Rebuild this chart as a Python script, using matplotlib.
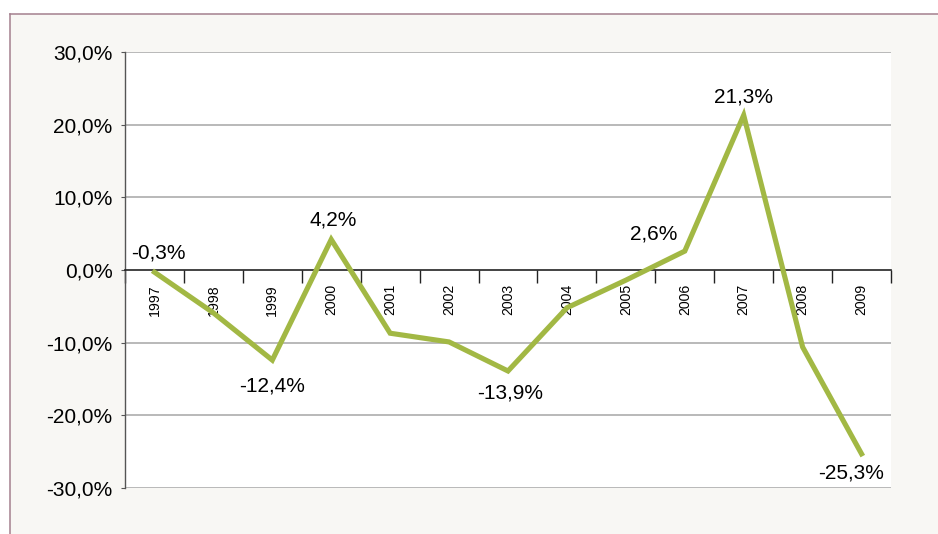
import numpy as np
import matplotlib.pyplot as plt
from matplotlib.patches import Rectangle
from matplotlib.lines import Line2D

years = ['1997', '1998', '1999', '2000', '2001', '2002', '2003',
         '2004', '2005', '2006', '2007', '2008', '2009']
values = [-0.3, -5.9, -12.4, 4.2, -8.7, -9.9, -13.9,
          -5.2, -1.4, 2.6, 21.3, -10.6, -25.3]
# which points carry a label, and where the label sits (pixels from the point)
labelled = [0, 2, 3, 6, 9, 10, 12]
label_offsets = [(4, 19), (0, -26), (2, 19), (2, -22), (-31, 17), (0, 18), (-10, -19)]

plt.rcParams['font.family'] = ['Liberation Sans', 'DejaVu Sans']

W, H = 938, 534
fig = plt.figure(figsize=(W / 100, H / 100), dpi=100)
fig.patch.set_facecolor('white')

# panel background with a thin border on left and top
bx, by = 9.5 / W, 1 - 13.5 / H
fig.patches.append(Rectangle((bx, 0), 1 - bx, by, transform=fig.transFigure,
                             facecolor='#f8f7f4', edgecolor='none', zorder=-5))
fig.add_artist(Line2D([bx, 1], [by, by], transform=fig.transFigure, color='#a4808e', lw=1.1, zorder=-4))
fig.add_artist(Line2D([bx, bx], [0, by], transform=fig.transFigure, color='#a4808e', lw=1.1, zorder=-4))

ax = fig.add_axes([125 / W, (H - 488) / H, (891 - 125) / W, (488 - 52) / H])
ax.set_facecolor('white')

x = np.arange(len(years))
ax.plot(x, values, color='#a2b844', lw=3.7, solid_joinstyle='miter', zorder=3)

for i, (dx, dy) in zip(labelled, label_offsets):
    v = values[i]
    ax.annotate(f'{v:.1f}%'.replace('.', ','), (x[i], v), xytext=(dx, dy),
                textcoords='offset pixels', ha='center', va='center',
                fontsize=15, color='black', zorder=4)

ax.set_xlim(-0.5, len(years) - 0.5)
ax.set_ylim(-30, 30)
yt = np.arange(-30, 31, 10)
ax.set_yticks(yt)
ax.set_yticklabels([f'{v:.1f}%'.replace('.', ',') for v in yt], fontsize=15)
ax.tick_params(axis='y', length=3, width=0.8, color='#555555', pad=6)

for v in yt:
    if v != 0:
        ax.axhline(v, color='#a6a6a6', lw=1.1, zorder=1)

for s in ['top', 'right']:
    ax.spines[s].set_visible(False)
ax.spines['left'].set_color('#555555')
ax.spines['left'].set_linewidth(1.0)
ax.spines['bottom'].set_position(('data', 0))
ax.spines['bottom'].set_color('#222222')
ax.spines['bottom'].set_linewidth(1.2)

ax.set_xticks(np.arange(-0.5, len(years)))
ax.set_xticklabels([])
ax.tick_params(axis='x', which='major', direction='out', length=9.5, width=1.0, color='#222222')
ax.set_xticks(x, minor=True)
ax.set_xticklabels(years, minor=True, rotation=90, fontsize=10.2)
ax.tick_params(axis='x', which='minor', length=0, pad=10)

fig.savefig('out.png', dpi=100, facecolor=fig.get_facecolor())
